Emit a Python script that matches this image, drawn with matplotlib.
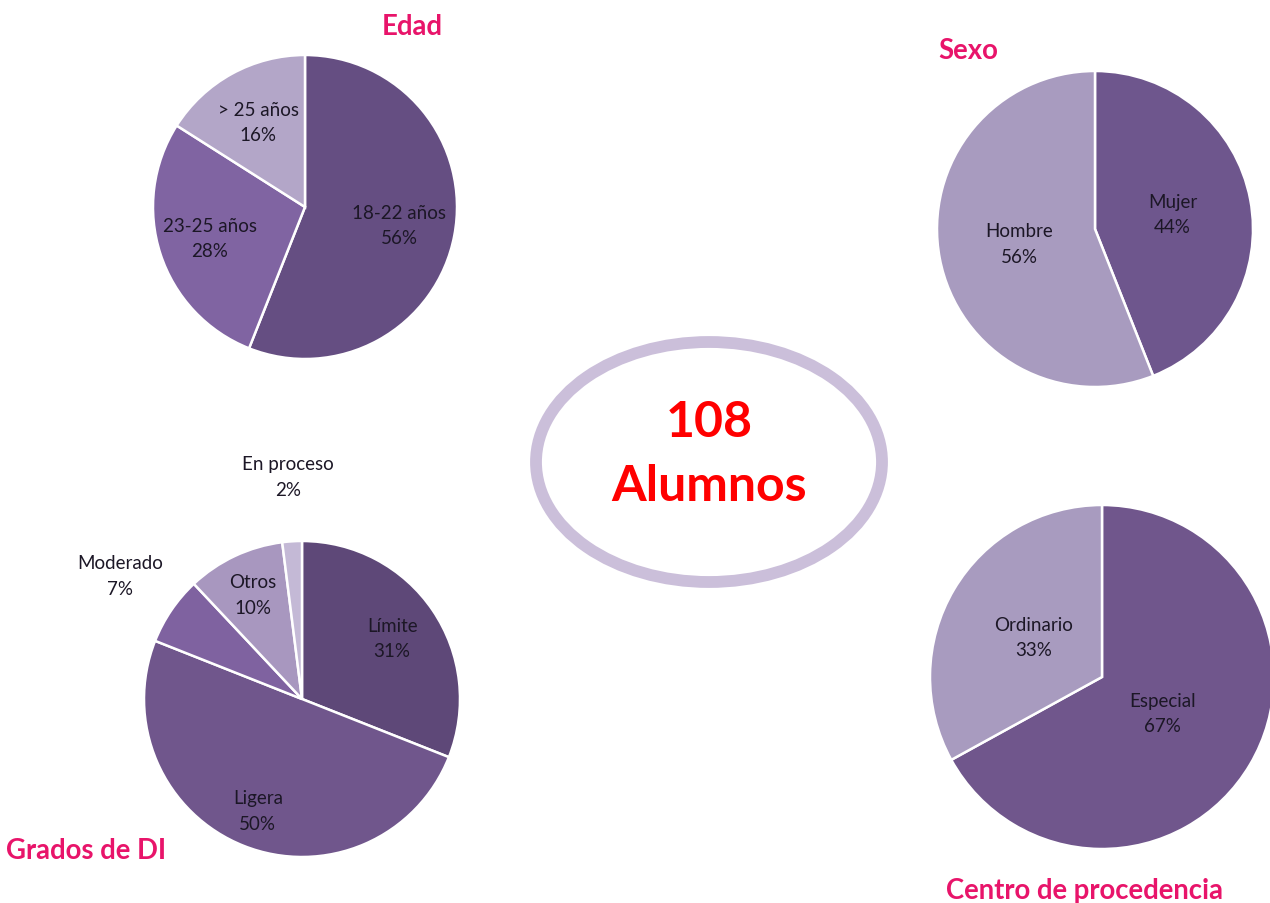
import matplotlib
matplotlib.use("Agg")
import matplotlib.pyplot as plt
from matplotlib.patches import Ellipse
import numpy as np

# ---- data ----
edad_labels = ["18-22 años", "23-25 años", "> 25 años"]
edad_values = [56, 28, 16]
sexo_labels = ["Mujer", "Hombre"]
sexo_values = [44, 56]
grados_labels = ["Límite", "Ligera", "Moderado", "Otros", "En proceso"]
grados_values = [31, 50, 7, 10, 2]
centro_labels = ["Especial", "Ordinario"]
centro_values = [67, 33]
total_alumnos = 108

# ---- style ----
plt.rcParams['font.family'] = ['Lato', 'DejaVu Sans']
W, H = 1270, 904
fig = plt.figure(figsize=(W / 100, H / 100), dpi=100)
fig.patch.set_facecolor('white')

TITLE_COLOR = '#e8146a'
TEXT_COLOR = '#1c1726'
LABEL_FS = 13.5


def add_pie(cx, cy, r, values, labels, colors, dists, title, title_xy):
    size = 2.5 * r
    ax = fig.add_axes([(cx - size / 2) / W, (H - cy - size / 2) / H, size / W, size / H])
    wedges, _ = ax.pie(values, colors=colors, startangle=90, counterclock=False,
                       wedgeprops=dict(edgecolor='white', linewidth=1.8))
    for w, lab, v, d in zip(wedges, labels, values, dists):
        th = np.deg2rad((w.theta1 + w.theta2) / 2)
        ax.text(d * np.cos(th), d * np.sin(th), f"{lab}\n{v}%", ha='center', va='center',
                fontsize=LABEL_FS, color=TEXT_COLOR, linespacing=1.6)
    ax.set_xlim(-1.25, 1.25)
    ax.set_ylim(-1.25, 1.25)
    ax.set_aspect('equal')
    ax.axis('off')
    fig.text(title_xy[0] / W, 1 - title_xy[1] / H, title, ha='center', va='center',
             fontsize=19.8, fontweight='bold', color=TITLE_COLOR)


add_pie(305, 208, 152, edad_values, edad_labels,
        ['#654e82', '#8064a2', '#b3a6c8'], [0.63, 0.66, 0.64],
        "Edad", (412, 27))
add_pie(1095, 230, 158, sexo_values, sexo_labels,
        ['#6e568d', '#a89bbf'], [0.5, 0.49],
        "Sexo", (968, 51))
add_pie(302, 700, 158, grados_values, grados_labels,
        ['#5e4878', '#70568c', '#7f62a0', '#a897bf', '#c4b9d6'],
        [0.69, 0.76, 1.39, 0.73, 1.41],
        "Grados de DI", (86, 851))
add_pie(1102, 678, 172, centro_values, centro_labels,
        ['#70568c', '#a89bbf'], [0.41, 0.46],
        "Centro de procedencia", (1085, 891))

# ---- central ellipse ----
ov = fig.add_axes([0, 0, 1, 1], zorder=5)
ov.set_xlim(0, W)
ov.set_ylim(0, H)
ov.axis('off')
ov.patch.set_alpha(0)
ov.add_patch(Ellipse((709, H - 463), 346, 240, fill=False, edgecolor='#cbbfda', linewidth=8.5))
ov.text(709, H - 423, f"{total_alumnos}", ha='center', va='center', fontsize=36,
        fontweight='bold', color='#ff0000')
ov.text(709, H - 487, "Alumnos", ha='center', va='center', fontsize=36,
        fontweight='bold', color='#ff0000')

fig.savefig("out.png", dpi=100, facecolor='white')
